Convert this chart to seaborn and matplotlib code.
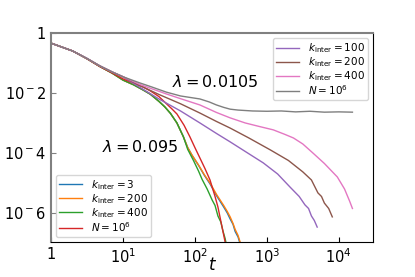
import numpy as np
import pandas as pd
import seaborn as sns
import matplotlib
matplotlib.use("Agg")
import matplotlib.pyplot as plt
from matplotlib.ticker import FixedLocator, FixedFormatter, NullLocator

# values as log10(t), log10(y)
# lambda = 0.095
lt_k3 = [0, 0.3, 0.5, 0.68, 0.85, 1.0, 1.15, 1.28, 1.38, 1.5, 1.58, 1.66, 1.75, 1.84,
         1.9, 1.96, 2.05, 2.13, 2.21, 2.3, 2.4, 2.45, 2.49, 2.53, 2.56, 2.6, 2.63, 2.66]
ly_k3 = [-0.34, -0.6, -0.86, -1.12, -1.34, -1.57, -1.73, -1.9, -2.04, -2.28, -2.46, -2.68, -3.0, -3.46,
         -3.82, -4.08, -4.41, -4.74, -5.03, -5.42, -5.8, -6.0, -6.2, -6.38, -6.62, -6.8, -7.04, -7.2]
lt_k200a = [0, 0.3, 0.5, 0.68, 0.85, 1.0, 1.15, 1.28, 1.38, 1.5, 1.58, 1.66, 1.75, 1.84,
            1.9, 1.96, 2.05, 2.13, 2.21, 2.3, 2.4, 2.45, 2.49, 2.53, 2.56, 2.6, 2.63, 2.67]
ly_k200a = [-0.34, -0.6, -0.86, -1.12, -1.34, -1.57, -1.73, -1.9, -2.04, -2.28, -2.46, -2.68, -3.0, -3.46,
            -3.82, -4.07, -4.4, -4.72, -5.0, -5.38, -5.75, -5.95, -6.13, -6.35, -6.55, -6.75, -6.98, -7.2]
lt_k400a = [0, 0.3, 0.5, 0.68, 0.85, 1.0, 1.15, 1.28, 1.38, 1.5, 1.58, 1.66, 1.75, 1.84,
            1.9, 1.98, 2.05, 2.1, 2.17, 2.24, 2.28, 2.32, 2.36, 2.39, 2.42, 2.45]
ly_k400a = [-0.34, -0.6, -0.86, -1.12, -1.34, -1.57, -1.73, -1.9, -2.04, -2.28, -2.46, -2.68, -3.0, -3.46,
            -3.88, -4.25, -4.6, -4.88, -5.2, -5.57, -5.75, -6.1, -6.3, -6.6, -6.85, -7.2]
lt_n6a = [0, 0.3, 0.5, 0.68, 0.85, 1.0, 1.15, 1.28, 1.38, 1.5, 1.6, 1.68, 1.75, 1.85,
          1.93, 2.0, 2.07, 2.14, 2.21, 2.28, 2.32, 2.35, 2.38, 2.41, 2.44]
ly_n6a = [-0.34, -0.6, -0.86, -1.12, -1.33, -1.53, -1.68, -1.8, -1.93, -2.12, -2.35, -2.53, -2.7, -3.08,
          -3.46, -3.82, -4.17, -4.52, -4.9, -5.45, -5.8, -6.15, -6.5, -6.85, -7.2]

# lambda = 0.0105
lt_k100 = [0, 0.3, 0.5, 0.68, 0.85, 1.0, 1.24, 1.5, 1.8, 2.07, 2.3, 2.49, 2.7, 2.95,
           3.15, 3.32, 3.45, 3.53, 3.58, 3.62, 3.66, 3.7]
ly_k100 = [-0.34, -0.6, -0.85, -1.1, -1.3, -1.46, -1.82, -2.2, -2.6, -3.0, -3.35, -3.63, -3.95, -4.33,
           -4.7, -5.13, -5.45, -5.73, -5.85, -6.1, -6.25, -6.47]
lt_k200b = [0, 0.3, 0.5, 0.68, 0.85, 1.0, 1.24, 1.5, 1.8, 2.07, 2.3, 2.49, 2.75, 3.05,
            3.3, 3.5, 3.62, 3.71, 3.76, 3.8, 3.86, 3.91]
ly_k200b = [-0.34, -0.6, -0.85, -1.1, -1.3, -1.46, -1.76, -2.05, -2.36, -2.67, -2.95, -3.17, -3.5, -3.9,
            -4.25, -4.63, -4.9, -5.33, -5.45, -5.67, -5.85, -6.13]
lt_k400b = [0, 0.3, 0.5, 0.68, 0.85, 1.0, 1.24, 1.4, 1.6, 1.8, 2.07, 2.3, 2.49, 2.7, 2.9,
            3.09, 3.25, 3.37, 3.5, 3.64, 3.8, 3.98, 4.08, 4.15, 4.19]
ly_k400b = [-0.34, -0.6, -0.85, -1.1, -1.3, -1.46, -1.72, -1.86, -2.03, -2.19, -2.4, -2.65, -2.83, -3.0, -3.12,
            -3.23, -3.38, -3.5, -3.7, -4.0, -4.35, -4.8, -5.2, -5.6, -5.85]
lt_n6b = [0, 0.3, 0.5, 0.68, 0.85, 1.0, 1.24, 1.4, 1.6, 1.8, 2.07, 2.2, 2.3, 2.4, 2.49,
          2.6, 2.8, 3.0, 3.2, 3.4, 3.6, 3.8, 4.0, 4.19]
ly_n6b = [-0.34, -0.6, -0.85, -1.1, -1.3, -1.46, -1.67, -1.8, -1.97, -2.1, -2.2, -2.3, -2.4, -2.48, -2.54,
          -2.57, -2.6, -2.61, -2.6, -2.63, -2.61, -2.64, -2.63, -2.64]

x_ticks = [1, 10, 100, 1000, 10000]
x_labels = ['1', '$10^1$', '$10^2$', '$10^3$', '$10^4$']
y_ticks = [1, 1e-2, 1e-4, 1e-6]
y_labels = ['1', '$10^-2$', '$10^-4$', '$10^-6$']

fig = plt.figure(figsize=(4.15, 2.77), dpi=100)
ax = fig.add_axes([0.123, 0.126, 0.776, 0.755])

series_a = [
    (lt_k3, ly_k3, 'C0', r'$k_{\rm inter}=3$'),
    (lt_k200a, ly_k200a, 'C1', r'$k_{\rm inter}=200$'),
    (lt_k400a, ly_k400a, 'C2', r'$k_{\rm inter}=400$'),
    (lt_n6a, ly_n6a, 'C3', r'$N=10^6$'),
]
series_b = [
    (lt_k100, ly_k100, 'C4', r'$k_{\rm inter}=100$'),
    (lt_k200b, ly_k200b, 'C5', r'$k_{\rm inter}=200$'),
    (lt_k400b, ly_k400b, 'C6', r'$k_{\rm inter}=400$'),
    (lt_n6b, ly_n6b, 'C7', r'$N=10^6$'),
]

for lt, ly, c, lab in series_a + series_b:
    sns.lineplot(x=10 ** np.array(lt), y=10 ** np.array(ly), ax=ax, color=c,
                 label=lab, linewidth=1.0, estimator=None, sort=False)

ax.set_xscale('log')
ax.set_yscale('log')
ax.set_xlim(1, 3e4)
ax.set_ylim(1.07e-7, 1)

ax.xaxis.set_major_locator(FixedLocator(x_ticks))
ax.xaxis.set_major_formatter(FixedFormatter(x_labels))
ax.xaxis.set_minor_locator(NullLocator())
ax.yaxis.set_major_locator(FixedLocator(y_ticks))
ax.yaxis.set_major_formatter(FixedFormatter(y_labels))
ax.yaxis.set_minor_locator(NullLocator())
ax.tick_params(direction='in', labelsize=10.5, length=3.5)
ax.tick_params(axis='y', colors='gray', labelcolor='black')

for s in ['left', 'top']:
    ax.spines[s].set_color('gray')
    ax.spines[s].set_linewidth(1.5)

ax.set_xlabel('$t$', fontsize=12)
ax.xaxis.set_label_coords(0.5, -0.065)
ax.set_ylabel('$P(t)$', fontsize=12)
ax.yaxis.set_label_coords(-0.175, 0.5)

ax.text(0.376, 0.766, r'$\lambda = 0.0105$', transform=ax.transAxes,
        fontsize=11.5, va='center')
ax.text(0.158, 0.455, r'$\lambda = 0.095$', transform=ax.transAxes,
        fontsize=11.5, va='center')

handles, labels = ax.get_legend_handles_labels()
leg1 = ax.legend(handles[:4], labels[:4], loc='lower left', fontsize=7.5,
                 handlelength=2.2, labelspacing=0.02, borderpad=0.3)
ax.add_artist(leg1)
ax.legend(handles[4:], labels[4:], loc='upper right', fontsize=7.5,
          handlelength=2.2, labelspacing=0.02, borderpad=0.3)

fig.savefig('out.png', dpi=100)
